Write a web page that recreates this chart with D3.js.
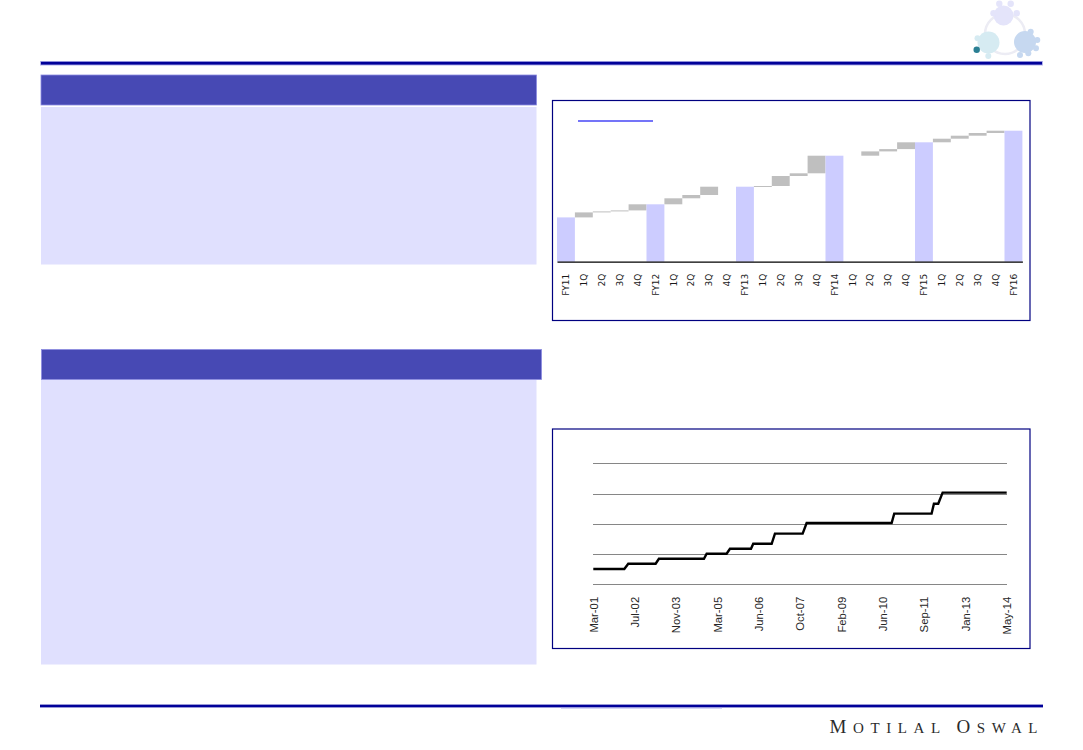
<!DOCTYPE html>
<html>
<head>
<meta charset="utf-8">
<script src="https://cdn.jsdelivr.net/npm/d3@7/dist/d3.min.js"></script>
<style>
  html, body { margin: 0; padding: 0; background: #ffffff; }
  svg { display: block; }
</style>
</head>
<body>
<svg id="page" width="1083" height="750"></svg>
<script>
// ---------------- DATA ----------------
// Waterfall chart (top right)
const wfCategories = ["FY11","1Q","2Q","3Q","4Q","FY12","1Q","2Q","3Q","4Q","FY13","1Q","2Q","3Q","4Q","FY14","1Q","2Q","3Q","4Q","FY15","1Q","2Q","3Q","4Q","FY16"];
const wfValues     = [44.3, 5.0, 1.0, 1.0, 6.1, 57.4, 6.0, 3.3, 8.3, 0.0, 75.0, 0.7, 10.0, 2.7, 17.6, 106.0, 0.0, 4.3, 2.3, 6.8, 119.4, 3.6, 3.0, 2.7, 2.3, 131.0];
const wfTotalFlags = [1,0,0,0,0,1,0,0,0,0,1,0,0,0,0,1,0,0,0,0,1,0,0,0,0,1];

// Step line chart (bottom right)
const stepDates  = ["2001-03-25","2002-03-20","2002-05-05","2003-03-19","2003-04-26","2004-09-30","2004-10-31","2005-06-20","2005-07-29","2006-03-30","2006-04-25","2006-11-25","2007-01-02","2007-11-20","2008-01-05","2010-09-18","2010-10-18","2011-12-26","2012-01-22","2012-03-12","2012-05-02","2014-05-16"];
const stepValues = [10.1, 10.1, 13.6, 13.6, 16.9, 16.9, 20.2, 20.2, 23.5, 23.5, 26.8, 26.8, 33.5, 33.5, 40.5, 40.5, 46.7, 46.7, 53.3, 53.3, 60.6, 60.6];
const stepTickLabels = ["Mar-01","Jul-02","Nov-03","Mar-05","Jun-06","Oct-07","Feb-09","Jun-10","Sep-11","Jan-13","May-14"];
const stepGridValues = [0, 20, 40, 60, 80];

// ---------------- PAGE ----------------
const svg = d3.select("#page");
svg.append("rect").attr("width", 1083).attr("height", 750).attr("fill", "#ffffff");

// top rule
svg.append("rect").attr("x", 40).attr("y", 61).attr("width", 1003).attr("height", 4.5).attr("fill", "#b4b4ea");
svg.append("rect").attr("x", 41).attr("y", 61.8).attr("width", 1001).attr("height", 2.8).attr("fill", "#000099");

// logo
const logo = svg.append("g");
logo.append("circle").attr("cx", 1005).attr("cy", 34).attr("r", 20).attr("fill", "none").attr("stroke", "#ececf4").attr("stroke-width", 2.5);
logo.append("circle").attr("cx", 1003.5).attr("cy", 15.5).attr("r", 10).attr("fill", "#e4e4fa");
[[999.3,3.8],[1010.7,3.8],[993.5,13.3],[1016.7,13.3]].forEach(p =>
  logo.append("circle").attr("cx", p[0]).attr("cy", p[1]).attr("r", 3.2).attr("fill", "#e4e4fa"));
logo.append("circle").attr("cx", 988.5).attr("cy", 42.5).attr("r", 11).attr("fill", "#d6ebf2");
[[977.5,38.3],[988.3,56]].forEach(p =>
  logo.append("circle").attr("cx", p[0]).attr("cy", p[1]).attr("r", 3).attr("fill", "#d6ebf2"));
logo.append("circle").attr("cx", 1025).attr("cy", 42).attr("r", 11).attr("fill", "#c6d8f0");
[[1030.7,31.7],[1037.3,40],[1036,48.3],[1028.3,53.3],[1020,55]].forEach(p =>
  logo.append("circle").attr("cx", p[0]).attr("cy", p[1]).attr("r", 3).attr("fill", "#c6d8f0"));
logo.append("circle").attr("cx", 976.7).attr("cy", 49.8).attr("r", 3.2).attr("fill", "#2a7f93");

// left panels
svg.append("rect").attr("x", 41).attr("y", 75).attr("width", 495.5).attr("height", 30)
  .attr("fill", "#4749b4").attr("stroke", "#8c8ce0").attr("stroke-width", 0.8);
svg.append("rect").attr("x", 41).attr("y", 107).attr("width", 495.5).attr("height", 157.5).attr("fill", "#e0e0fe");
svg.append("rect").attr("x", 41.5).attr("y", 349.5).attr("width", 500).attr("height", 30)
  .attr("fill", "#4749b4").attr("stroke", "#8c8ce0").attr("stroke-width", 0.8);
svg.append("rect").attr("x", 41).attr("y", 380).attr("width", 495.5).attr("height", 284.5).attr("fill", "#e0e0fe");

// chart frames
svg.append("rect").attr("x", 552.5).attr("y", 100.5).attr("width", 477.5).attr("height", 220)
  .attr("fill", "#ffffff").attr("stroke", "#000080").attr("stroke-width", 1.2);
svg.append("rect").attr("x", 552.5).attr("y", 429).attr("width", 477.5).attr("height", 219.5)
  .attr("fill", "#ffffff").attr("stroke", "#000080").attr("stroke-width", 1.2);

// ---------------- WATERFALL ----------------
const wfIdx = d3.range(wfCategories.length);
const xw = d3.scaleBand().domain(wfIdx).range([557, 1022.4]).padding(0);
const yw = d3.scaleLinear().domain([0, 150]).range([261.7, 111.7]);

let running = 0;
const wfBars = wfIdx.map(i => {
  if (wfTotalFlags[i]) { running = wfValues[i]; return {i, y0: 0, y1: wfValues[i], total: true}; }
  const b = {i, y0: running, y1: running + wfValues[i], total: false};
  running += wfValues[i];
  return b;
});

const gw = svg.append("g");
gw.selectAll("rect.bar").data(wfBars.filter(d => d.y1 - d.y0 > 0)).join("rect")
  .attr("class", "bar")
  .attr("x", d => xw(d.i))
  .attr("width", xw.bandwidth())
  .attr("y", d => yw(d.y1))
  .attr("height", d => Math.max(1, yw(d.y0) - yw(d.y1)))
  .attr("fill", d => d.total ? "#ccccff" : "#bfbfbf");

const axW = gw.append("g").attr("transform", "translate(0,261.7)")
  .call(d3.axisBottom(xw).tickSize(0).tickFormat(i => wfCategories[i]));
axW.select(".domain").attr("stroke", "#000000").attr("stroke-width", 1.2);
axW.selectAll("text")
  .attr("transform", "rotate(-90)")
  .attr("x", -12).attr("y", 0).attr("dy", "0.35em")
  .attr("text-anchor", "end")
  .attr("font-family", "DejaVu Sans").attr("font-size", 9).attr("fill", "#1a1a1a");

// legend marker line
gw.append("line").attr("x1", 578).attr("x2", 653).attr("y1", 121).attr("y2", 121)
  .attr("stroke", "#4646f6").attr("stroke-width", 1.5);

// ---------------- STEP LINE ----------------
const parse = d3.timeParse("%Y-%m-%d");
const stepPoints = stepDates.map((d, i) => ({date: parse(d), value: stepValues[i]}));
const tStart = parse(stepDates[0]);
const tickDates = stepTickLabels.map((_, k) => d3.timeDay.offset(tStart, 480 * k));
const xs = d3.scaleTime().domain([tStart, tickDates[tickDates.length - 1]]).range([593.3, 1006.7]);
const ys = d3.scaleLinear().domain([0, 80]).range([584.3, 463.3]);

const gs = svg.append("g");
gs.selectAll("line.grid").data(stepGridValues).join("line")
  .attr("class", "grid")
  .attr("x1", 593).attr("x2", 1007)
  .attr("y1", d => Math.round(ys(d)) + 0.5).attr("y2", d => Math.round(ys(d)) + 0.5)
  .attr("stroke", "#868686").attr("stroke-width", 1);

const axS = gs.append("g").attr("transform", "translate(0,584.3)")
  .call(d3.axisBottom(xs).tickValues(tickDates).tickSize(0).tickFormat((d, i) => stepTickLabels[i]));
axS.select(".domain").remove();
axS.selectAll("text")
  .attr("transform", "rotate(-90)")
  .attr("x", -12.5).attr("y", 0).attr("dy", "0.35em")
  .attr("text-anchor", "end")
  .attr("font-family", "Liberation Sans").attr("font-size", 11.3).attr("fill", "#262626");

gs.append("path").datum(stepPoints)
  .attr("d", d3.line().x(d => xs(d.date)).y(d => ys(d.value)))
  .attr("fill", "none").attr("stroke", "#000000").attr("stroke-width", 2.4)
  .attr("stroke-linejoin", "miter");

// ---------------- FOOTER ----------------
svg.append("rect").attr("x", 40).attr("y", 704.6).attr("width", 1003).attr("height", 2.8).attr("fill", "#000099");
svg.append("rect").attr("x", 561).attr("y", 707.4).attr("width", 161).attr("height", 1).attr("fill", "#9a9ae0");

const brand = svg.append("text").attr("x", 829.5).attr("y", 733)
  .attr("font-family", "Liberation Serif")
  .attr("textLength", 209).attr("lengthAdjust", "spacing")
  .attr("letter-spacing", 1)
  .attr("fill", "#2b2b2b");
brand.append("tspan").attr("font-size", 19).text("M");
brand.append("tspan").attr("font-size", 15).text("OTILAL ");
brand.append("tspan").attr("font-size", 19).text("O");
brand.append("tspan").attr("font-size", 15).text("SWAL");
</script>
</body>
</html>
